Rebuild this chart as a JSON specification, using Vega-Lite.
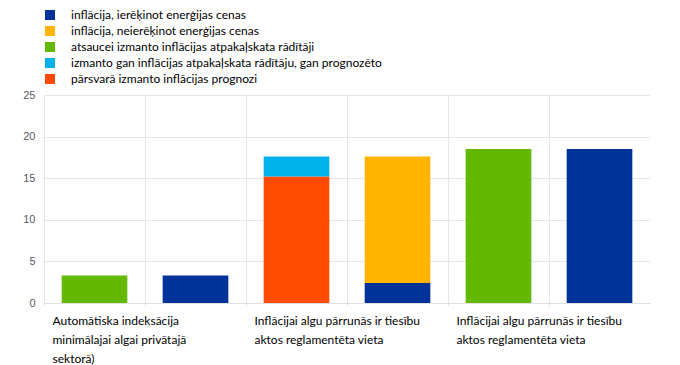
{
  "$schema": "https://vega.github.io/schema/vega-lite/v6.json",
  "autosize": "none",
  "width": 606,
  "height": 208,
  "padding": {"left": 44, "top": 95, "right": 30, "bottom": 62},
  "background": "white",
  "config": {"view": {"stroke": null}},
  "data": {
    "values": [
      {"slot": "s1", "series": "atsaucei izmanto inflācijas atpakaļskata rādītāji", "ord": 1, "value": 3.3},
      {"slot": "s2", "series": "inflācija, ierēķinot enerģijas cenas", "ord": 1, "value": 3.3},
      {"slot": "s3", "series": "pārsvarā izmanto inflācijas prognozi", "ord": 1, "value": 15.2},
      {"slot": "s3", "series": "izmanto gan inflācijas atpakaļskata rādītāju, gan prognozēto", "ord": 2, "value": 2.4},
      {"slot": "s4", "series": "inflācija, ierēķinot enerģijas cenas", "ord": 1, "value": 2.4},
      {"slot": "s4", "series": "inflācija, neierēķinot enerģijas cenas", "ord": 2, "value": 15.2},
      {"slot": "s5", "series": "atsaucei izmanto inflācijas atpakaļskata rādītāji", "ord": 1, "value": 18.5},
      {"slot": "s6", "series": "inflācija, ierēķinot enerģijas cenas", "ord": 1, "value": 18.5}
    ]
  },
  "mark": {"type": "bar", "width": {"band": 0.65}},
  "encoding": {
    "x": {
      "field": "slot",
      "type": "nominal",
      "sort": ["s1", "s2", "s3", "s4", "s5", "s6"],
      "scale": {"paddingInner": 0, "paddingOuter": 0},
      "axis": {
        "title": null,
        "bandPosition": 0,
        "grid": true,
        "gridColor": "#e6e6e6",
        "gridWidth": 1,
        "domainColor": "#e0e0e0",
        "tickColor": "#e0e0e0",
        "tickSize": 3,
        "labelAngle": 0,
        "labelAlign": "left",
        "labelBaseline": "top",
        "labelOffset": -42,
        "labelPadding": 9,
        "labelLimit": 0,
        "labelFont": "Lato",
        "labelFontSize": 12,
        "labelColor": "#000000",
        "labelLineHeight": 19,
        "labelOverlap": false,
        "labelExpr": "datum.value == 's1' ? ['Automātiska indeksācija', 'minimālajai algai privātajā', 'sektorā)'] : (datum.value == 's3' || datum.value == 's5') ? ['Inflācijai algu pārrunās ir tiesību', 'aktos reglamentēta vieta'] : ''"
      }
    },
    "y": {
      "field": "value",
      "type": "quantitative",
      "stack": "zero",
      "scale": {"domain": [0, 25], "nice": false},
      "axis": {
        "title": null,
        "values": [0, 5, 10, 15, 20, 25],
        "domain": false,
        "ticks": false,
        "grid": true,
        "gridColor": "#e6e6e6",
        "labelFont": "Liberation Sans",
        "labelFontSize": 11,
        "labelColor": "#595959",
        "labelPadding": 9
      }
    },
    "order": {"field": "ord", "type": "quantitative"},
    "color": {
      "field": "series",
      "type": "nominal",
      "scale": {
        "domain": [
          "inflācija, ierēķinot enerģijas cenas",
          "inflācija, neierēķinot enerģijas cenas",
          "atsaucei izmanto inflācijas atpakaļskata rādītāji",
          "izmanto gan inflācijas atpakaļskata rādītāju, gan prognozēto",
          "pārsvarā izmanto inflācijas prognozi"
        ],
        "range": ["#003299", "#FFB400", "#65B800", "#00B1EA", "#FF4B00"]
      },
      "legend": {
        "title": null,
        "orient": "none",
        "legendX": 0,
        "legendY": -86,
        "padding": 0,
        "symbolType": "square",
        "symbolSize": 100,
        "symbolStrokeWidth": 0,
        "labelOffset": 15,
        "labelFont": "Lato",
        "labelFontSize": 12,
        "labelColor": "#000000",
        "labelLimit": 0,
        "rowPadding": 4
      }
    }
  }
}
